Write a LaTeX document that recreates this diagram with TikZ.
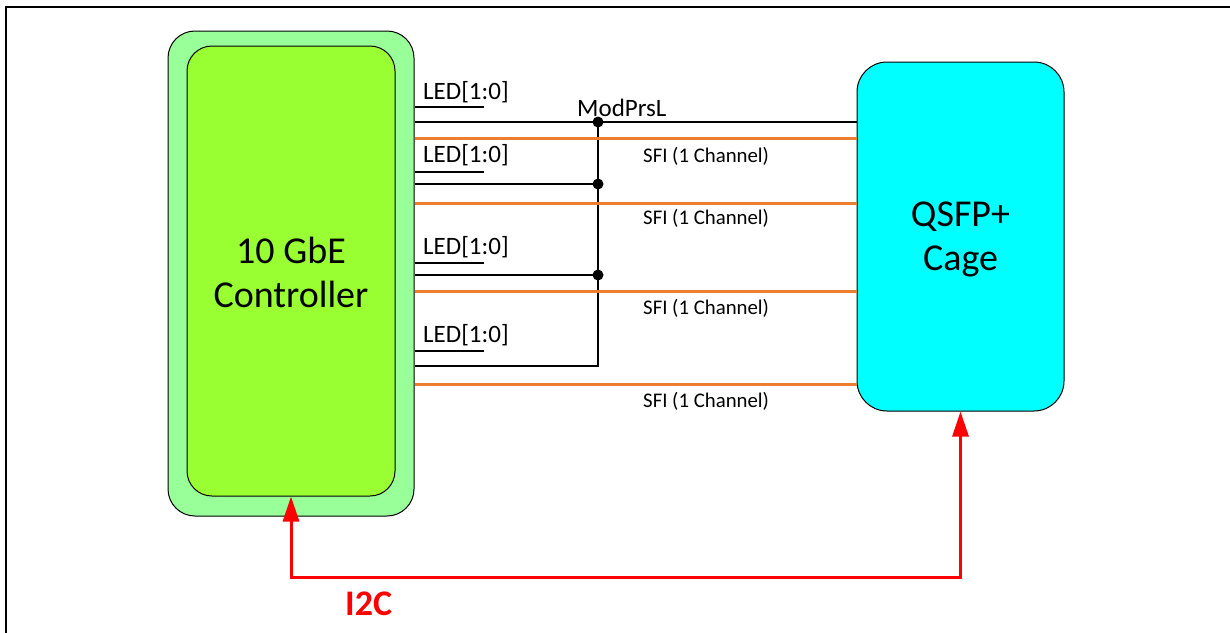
\documentclass[tikz,border=0pt]{standalone}
\usepackage{fontspec}
\setmainfont{Carlito}
\usetikzlibrary{arrows.meta}
\definecolor{outgreen}{RGB}{153,255,153}
\definecolor{ingreen}{RGB}{153,255,51}
\definecolor{cyanbox}{RGB}{0,255,255}
\definecolor{sfiorange}{RGB}{237,125,49}
\begin{document}
\begin{tikzpicture}[x=1pt,y=-1pt,
 box/.style={draw=black, line width=1pt, rounded corners=27pt, inner sep=0pt},
 sig/.style={draw=black, line width=1.4pt},
 sfi/.style={draw=sfiorange, line width=3pt},
 dotnode/.style={circle, fill=black, inner sep=0pt, minimum size=11pt},
 ledlbl/.style={anchor=base west, inner sep=0pt, font=\fontsize{25}{30}\selectfont},
 sfilbl/.style={anchor=base west, inner sep=0pt, font=\fontsize{20.8}{25}\selectfont},
 i2c/.style={draw=red, line width=3pt, {Triangle[length=25pt,width=16pt]}-{Triangle[length=25pt,width=16pt]}},
 bigtxt/.style={font=\fontsize{38}{44.5}\selectfont, align=center}]
\useasboundingbox (0,0) rectangle (1230,632);
\draw[line width=2.5pt] (6,645) -- (6,7) -- (1245,7);
% boxes
\node[box, fill=outgreen, minimum width=246pt, minimum height=485pt] (ctrlout) at (291,273.5) {};
\node[box, fill=ingreen, minimum width=208pt, minimum height=450pt, rounded corners=25pt] (ctrl) at (291,271) {};
\node[bigtxt] (ctrltxt) at ([yshift=-1.5pt]ctrl.center) {10 GbE\\Controller};
\node[box, fill=cyanbox, minimum width=207pt, minimum height=349pt, rounded corners=30pt] (qsfp) at (960.5,236.5) {};
\node[bigtxt] (qsfptxt) at ([yshift=-3pt]qsfp.center) {QSFP+\\Cage};
% coordinates
\coordinate (j1) at (598,122);
\coordinate (j2) at (598,184);
\coordinate (j3) at (598,275);
\coordinate (j4) at (598,366);
\coordinate (l1) at (484,107);
\coordinate (l2) at (484,172);
\coordinate (l3) at (484,263);
\coordinate (l4) at (484,351);
\coordinate (o1) at (0,138);
\coordinate (o2) at (0,203);
\coordinate (o3) at (0,291.5);
\coordinate (o4) at (0,384.5);
\coordinate (bot) at (0,577);
% LED stubs
\foreach \i in {1,2,3,4} {\draw[sig] (ctrlout.east |- l\i) -- (l\i);}
% ModPrsL bus
\draw[sig] (ctrlout.east |- j1) -- (qsfp.west |- j1);
\draw[sig] (ctrlout.east |- j2) -- (j2);
\draw[sig] (ctrlout.east |- j3) -- (j3);
\draw[sig] (ctrlout.east |- j4) -- (j4) -- (j1);
\foreach \i in {1,2,3} {\node[dotnode] (d\i) at (j\i) {};}
% SFI lines
\foreach \i in {1,2,3,4} {\draw[sfi] (ctrlout.east |- o\i) -- (qsfp.west |- o\i);}
% labels
\node[ledlbl] (led1) at (423,99) {LED[1:0]};
\node[ledlbl] (led2) at (423,162.7) {LED[1:0]};
\node[ledlbl] (led3) at (423,254.3) {LED[1:0]};
\node[ledlbl] (led4) at (423,342.7) {LED[1:0]};
\node[ledlbl] (mod) at (577,116.7) {ModPrsL};
\node[sfilbl] (sfi1) at (643,162) {SFI (1 Channel)};
\node[sfilbl] (sfi2) at (643,224) {SFI (1 Channel)};
\node[sfilbl] (sfi3) at (643,314) {SFI (1 Channel)};
\node[sfilbl] (sfi4) at (643,407) {SFI (1 Channel)};
% I2C
\draw[i2c] (ctrl.south) -- (ctrl.south |- bot) -| (qsfp.south);
\node[font=\fontsize{36}{40}\selectfont\bfseries, text=red, anchor=base west, inner sep=0pt] (i2clbl) at (345,615) {I2C};
\end{tikzpicture}
\end{document}
